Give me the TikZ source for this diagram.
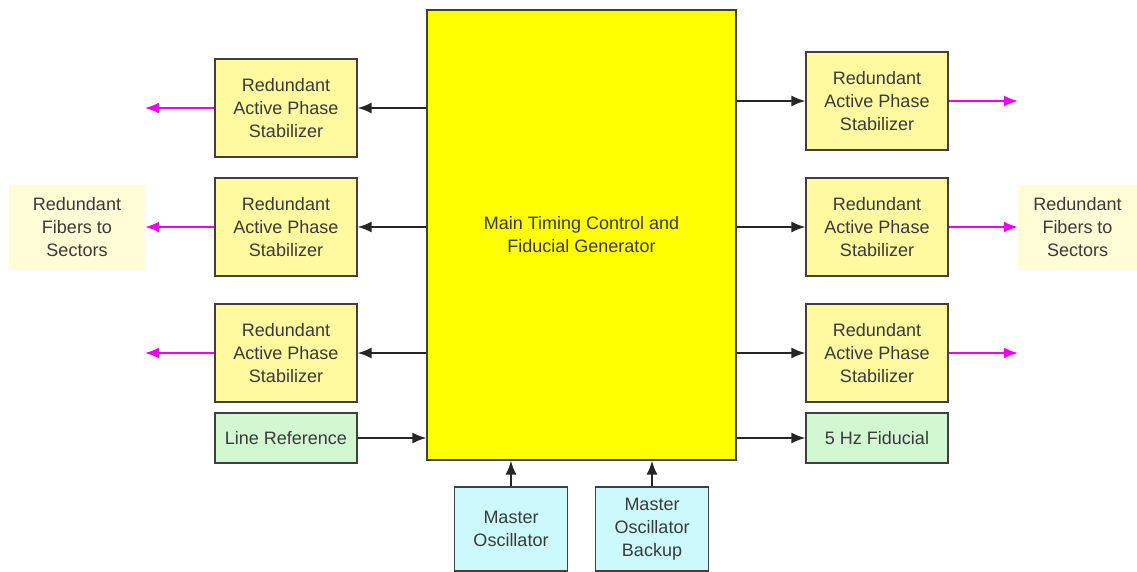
\documentclass[tikz,border=0pt]{standalone}
\usepackage{fontspec}
\setmainfont{Liberation Sans}
\usetikzlibrary{arrows.meta}
\definecolor{apsfill}{HTML}{FFF9A0}
\definecolor{fibfill}{HTML}{FFFCD6}
\definecolor{greenfill}{HTML}{D2F8D2}
\definecolor{cyanfill}{HTML}{CCFAFC}
\definecolor{txt}{HTML}{3A3A3A}
\definecolor{mymag}{HTML}{F000F0}
\begin{document}
\begin{tikzpicture}[x=1pt,y=-1pt,
  box/.style={draw=black!75, line width=1.2pt, minimum width=142pt, align=center, text=txt, font=\fontsize{18}{23}\selectfont, inner sep=0pt},
  aps/.style={box, fill=apsfill, minimum height=98pt},
  sm/.style={box, fill=greenfill, minimum height=50pt},
  osc/.style={box, fill=cyanfill, minimum width=113pt, minimum height=84pt},
  fib/.style={fill=fibfill, align=center, text=txt, font=\fontsize{18}{23}\selectfont, inner sep=0pt, minimum height=85pt},
  blk/.style={-{Latex[length=14pt,width=11pt]}, line width=1.8pt, black!85},
  mag/.style={-{Latex[length=14pt,width=11pt]}, line width=1.8pt, mymag}]
\useasboundingbox (0,0) rectangle (1137,571);
\node[draw=black!75, line width=1.2pt, fill={rgb,1:red,1;green,1;blue,0}, minimum width=309pt, minimum height=450pt, align=center, text=txt, font=\fontsize{18}{23}\selectfont, inner sep=0pt] (main) at (581.5,235) {Main Timing Control and\\Fiducial Generator};
% left
\node[aps] (l1) at (286,108) {Redundant\\Active Phase\\Stabilizer};
\node[aps] (l2) at (286,227) {Redundant\\Active Phase\\Stabilizer};
\node[aps] (l3) at (286,353) {Redundant\\Active Phase\\Stabilizer};
\node[sm] (lr) at (286,438) {Line Reference};
% right
\node[aps] (r1) at (877,101) {Redundant\\Active Phase\\Stabilizer};
\node[aps] (r2) at (877,227) {Redundant\\Active Phase\\Stabilizer};
\node[aps] (r3) at (877,353) {Redundant\\Active Phase\\Stabilizer};
\node[sm] (fid) at (877,438) {5 Hz Fiducial};
% fibers
\node[fib, minimum width=136pt] (fl) at (77,227.5) {Redundant\\Fibers to\\Sectors};
\node[fib, minimum width=119pt] (fr) at (1077.5,227.5) {Redundant\\Fibers to\\Sectors};
% oscillators
\node[osc] (mo) at (511,529) {Master\\Oscillator};
\node[osc] (mob) at (652,529) {Master\\Oscillator\\Backup};
% free ends
\coordinate (el) at (145,0);
\coordinate (er) at (1018,0);
% connectors
\draw[blk] (main.west |- l1.east) -- (l1.east);
\draw[blk] (main.west |- l2.east) -- (l2.east);
\draw[blk] (main.west |- l3.east) -- (l3.east);
\draw[blk] (lr.east) -- (main.west |- lr.east);
\draw[blk] (main.east |- r1.west) -- (r1.west);
\draw[blk] (main.east |- r2.west) -- (r2.west);
\draw[blk] (main.east |- r3.west) -- (r3.west);
\draw[blk] (main.east |- fid.west) -- (fid.west);
\draw[mag] (l1.west) -- (el |- l1.west);
\draw[mag] (l2.west) -- (fl.east |- l2.west);
\draw[mag] (l3.west) -- (el |- l3.west);
\draw[mag] (r1.east) -- (er |- r1.east);
\draw[mag] (r2.east) -- (fr.west |- r2.east);
\draw[mag] (r3.east) -- (er |- r3.east);
\draw[blk] (mo.north) -- (mo.north |- main.south);
\draw[blk] (mob.north) -- (mob.north |- main.south);
\end{tikzpicture}
\end{document}
